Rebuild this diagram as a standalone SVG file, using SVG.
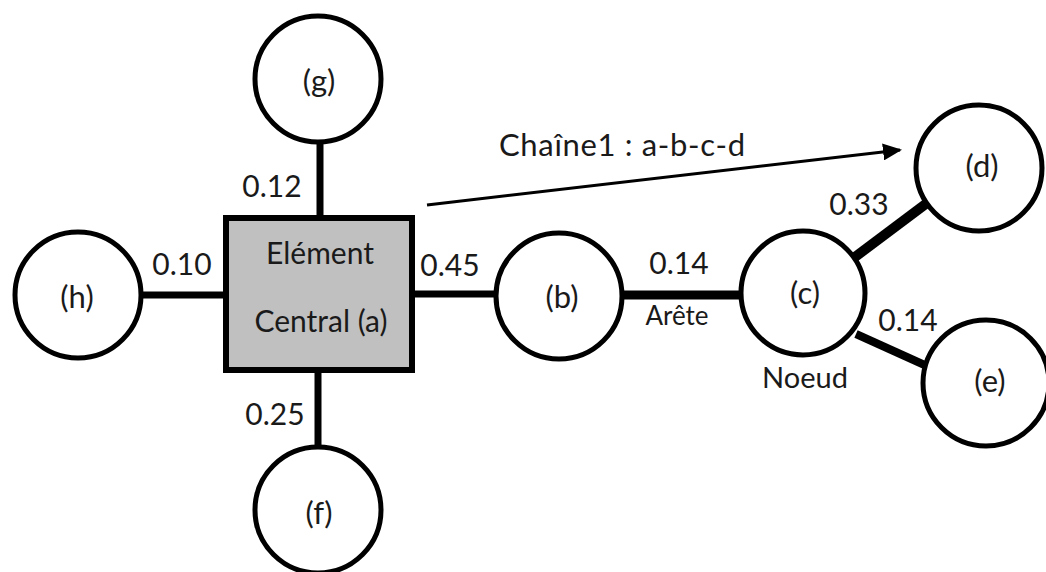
<svg xmlns="http://www.w3.org/2000/svg" width="1046" height="572" viewBox="0 0 1046 572">
<style>
.node{fill:#fff;stroke:#000;stroke-width:5}
.box{fill:#c0c0c0;stroke:#000;stroke-width:6}
.edge{stroke:#000;fill:none}
text{font-family:Lato,"Liberation Sans",sans-serif;fill:#1a1a1a;font-size:30px;text-anchor:middle}
.lbl{font-size:31px}
</style>
<defs>
<marker id="arr" markerWidth="19" markerHeight="17" refX="17" refY="8.5" orient="auto" markerUnits="userSpaceOnUse">
<path d="M0,0 L19,8.5 L0,17 Z" fill="#000"/>
</marker>
</defs>
<rect width="1046" height="572" fill="#fff"/>
<g id="connectors">
<line class="edge" x1="320" y1="143" x2="320" y2="216" stroke-width="7"/>
<line class="edge" x1="142" y1="295" x2="224" y2="295" stroke-width="7"/>
<line class="edge" x1="414" y1="294" x2="494" y2="294" stroke-width="7"/>
<line class="edge" x1="318" y1="372" x2="318" y2="447" stroke-width="7"/>
<line class="edge" x1="624" y1="295" x2="740" y2="295" stroke-width="9"/>
<line class="edge" x1="855" y1="257" x2="927" y2="203" stroke-width="10"/>
<line class="edge" x1="856" y1="334" x2="929" y2="367" stroke-width="8"/>
<line class="edge" x1="427" y1="205" x2="900" y2="150" stroke-width="3" marker-end="url(#arr)"/>
<text x="272" y="197">0.12</text>
<text x="182" y="275">0.10</text>
<text x="450" y="276">0.45</text>
<text x="275" y="425">0.25</text>
<text x="679" y="274">0.14</text>
<text x="677" y="325" style="font-size:26px">Arête</text>
<text x="859" y="215">0.33</text>
<text x="908" y="331">0.14</text>
<text x="622" y="156" style="font-size:31px" textLength="246" lengthAdjust="spacing">Chaîne1 : a-b-c-d</text>
</g>
<g id="node-a">
<rect class="box" x="226" y="218" width="186" height="152"/>
<text x="320" y="264">Elément</text>
<text x="321" y="332">Central (a)</text>
</g>
<g id="node-g"><circle class="node" cx="318" cy="79" r="63"/><text class="lbl" x="319" y="92">(g)</text></g>
<g id="node-h"><circle class="node" cx="78" cy="295" r="63"/><text class="lbl" x="77" y="308">(h)</text></g>
<g id="node-f"><circle class="node" cx="318" cy="510" r="63"/><text class="lbl" x="319" y="524">(f)</text></g>
<g id="node-b"><circle class="node" cx="559" cy="296" r="63"/><text class="lbl" x="562" y="308">(b)</text></g>
<g id="node-c"><circle class="node" cx="803" cy="293" r="62"/><text class="lbl" x="805" y="304">(c)</text>
<text x="805" y="388" style="font-size:29px">Noeud</text></g>
<g id="node-d"><circle class="node" cx="979" cy="168" r="63"/><text class="lbl" x="982" y="177">(d)</text></g>
<g id="node-e"><circle class="node" cx="986" cy="383" r="63"/><text class="lbl" x="990" y="392">(e)</text></g>
</svg>
